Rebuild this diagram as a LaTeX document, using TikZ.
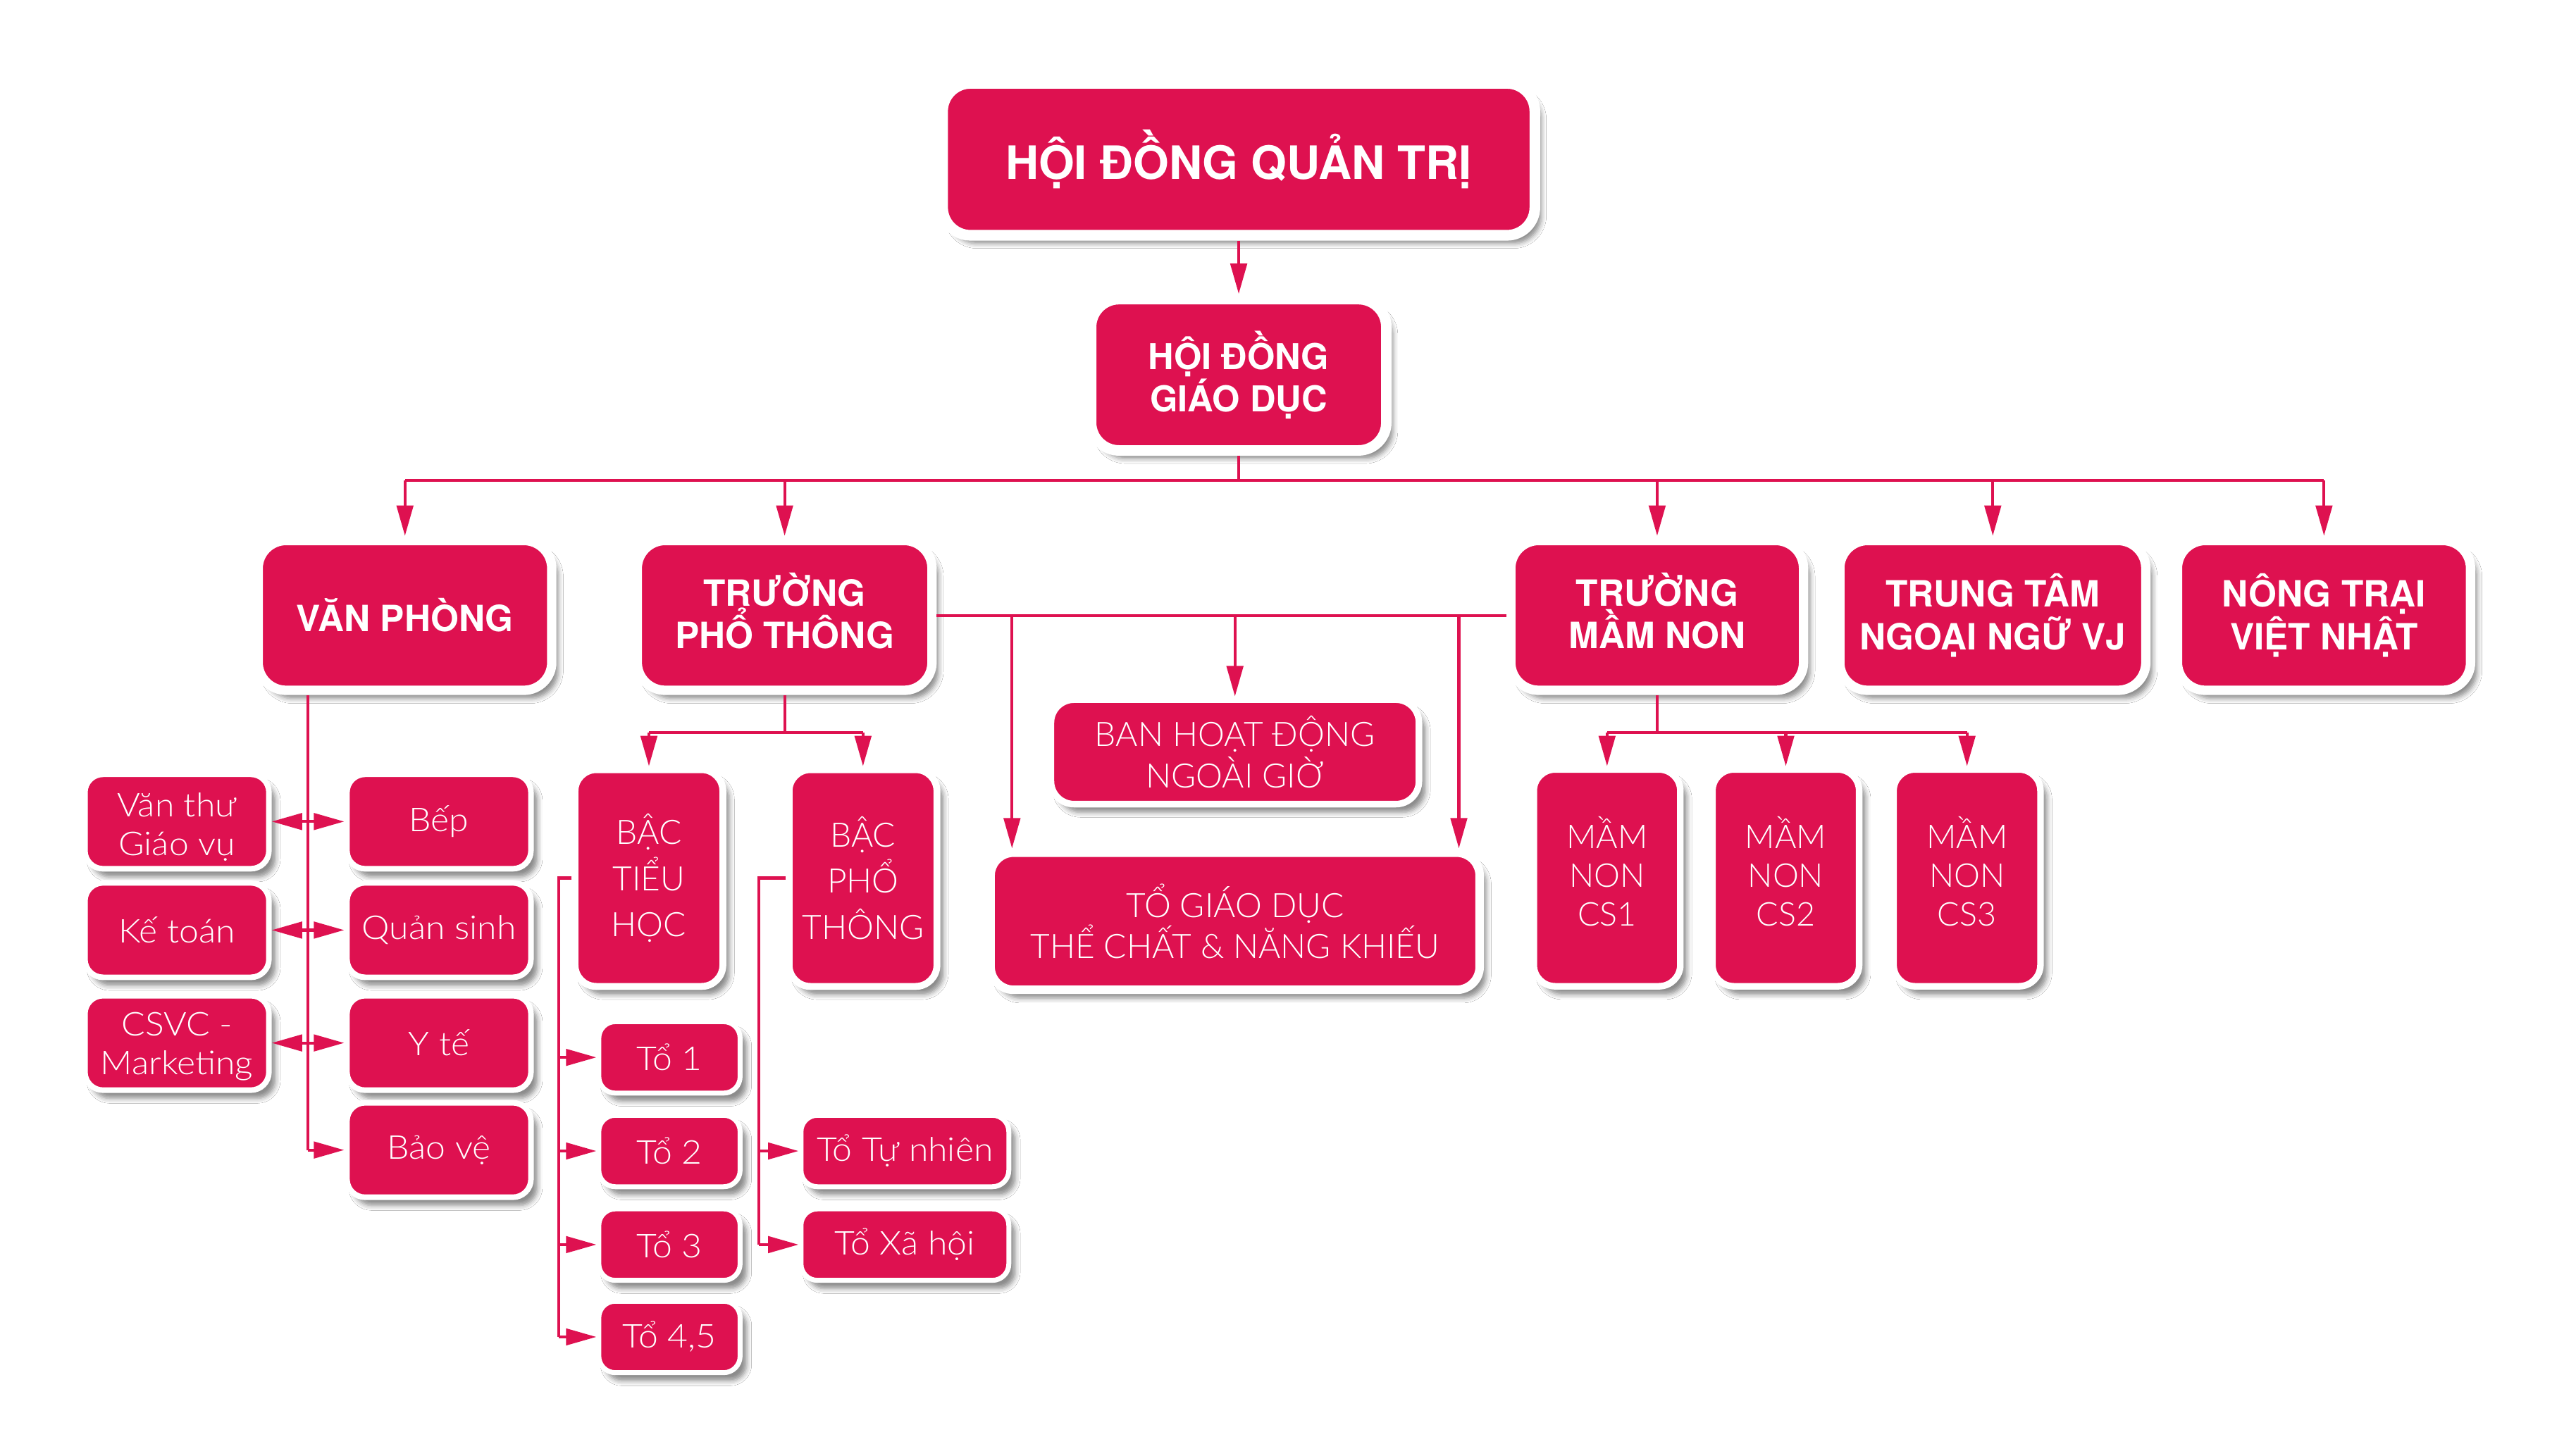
\documentclass[tikz,border=0pt]{standalone}
\usepackage{fontspec}
\usetikzlibrary{arrows.meta,shadows.blur}
\newfontfamily\headfont{TeX Gyre Heros}
\newfontfamily\bodyfont{Lato Light}
\newfontfamily\bodywide{Lato Light}[FakeStretch=1.07]
\definecolor{vjred}{RGB}{222,17,80}
% invisible struts used to balance stacked accents when centring text
\newcommand\padbelow[1]{\rule[-#1]{0pt}{0pt}}
\newcommand\padabove[1]{\rule{0pt}{#1}}

\begin{document}
\begin{tikzpicture}[x=1pt,y=-1pt,
  unit/.style={rectangle, fill=vjred, draw=white, text=white, align=center, inner sep=0pt,
    blur shadow={shadow xshift=4pt, shadow yshift=-5pt, shadow blur radius=3pt, shadow opacity=45}},
  headbox/.style={unit, font=\headfont\bfseries\fontsize{22}{26}\selectfont},
  topbox/.style={headbox, line width=6.5pt, rounded corners=17pt},
  lvlbox/.style={headbox, line width=5.7pt, rounded corners=17pt},
  bodybox/.style={unit, font=\bodyfont\fontsize{20}{23.5}\selectfont},
  widebox/.style={bodybox, rounded corners=14pt},
  tallbox/.style={bodybox, line width=4.2pt, rounded corners=13pt, minimum width=90pt, minimum height=132pt},
  smallbox/.style={bodybox, font=\bodywide\fontsize{20}{23.5}\selectfont, line width=3.4pt, rounded corners=11pt, minimum width=112pt, minimum height=57.5pt},
  tobox/.style={bodybox, font=\bodywide\fontsize{20}{23.5}\selectfont, line width=3pt, rounded corners=10pt, minimum height=43.5pt},
  ln/.style={draw=vjred, line width=1.8pt},
  arr/.style={ln, -{Triangle[length=18.5pt,width=10pt]}},
]
\fill[white] (0,0) rectangle (1568,879);
\useasboundingbox (0,0) rectangle (1568,879);

% governing boards
\node[topbox, minimum width=360.5pt, minimum height=92.5pt,
      font=\headfont\bfseries\fontsize{28}{32}\selectfont] (hdqt) at (754,97) {HỘI ĐỒNG QUẢN TRỊ};
\node[topbox, line width=6.4pt, minimum width=179.7pt, minimum height=92.1pt,
      font=\headfont\bfseries\fontsize{21.7}{25.7}\selectfont] (hdgd) at (754,228.2) {HỘI ĐỒNG\\GIÁO DỤC};

% second level units
\node[lvlbox, minimum width=178.7pt, minimum height=91.2pt] (vp) at (246.5,374.7) {VĂN PHÒNG};
\node[lvlbox, minimum width=179.4pt, minimum height=91.2pt] (tpt) at (477.6,374.7) {TRƯỜNG\\PHỔ THÔNG\padbelow{6pt}};
\node[lvlbox, minimum width=178.2pt, minimum height=91.2pt] (tmn) at (1008.7,374.7) {TRƯỜNG\\MẦM NON\padbelow{6pt}};
\node[lvlbox, minimum width=186.3pt, minimum height=91.2pt] (tt) at (1213,374.7) {TRUNG TÂM\\NGOẠI NGỮ VJ};
\node[lvlbox, minimum width=178.4pt, minimum height=91.2pt] (nt) at (1414.6,374.7) {NÔNG TRẠI\\VIỆT NHẬT};

% school-wide teams
\node[widebox, line width=4pt, minimum width=224pt, minimum height=63.6pt,
      font=\bodyfont\fontsize{20.5}{25.2}\selectfont] (ban) at (751.7,457.8) {BAN HOẠT ĐỘNG\\NGOÀI GIỜ};
\node[widebox, line width=5.2pt, minimum width=297.7pt, minimum height=83.5pt,
      font=\bodyfont\fontsize{20.5}{23.4}\selectfont] (gdtc) at (751.8,560.9) {TỔ GIÁO DỤC\\THỂ CHẤT \& NĂNG KHIẾU};

% school levels
\node[tallbox, font=\bodyfont\fontsize{20.5}{28.2}\selectfont] (bth) at (395,534.6) {BẬC\\TIỂU\\HỌC};
\node[tallbox, font=\bodyfont\fontsize{20.5}{28.2}\selectfont] (bpt) at (525.3,534.6) {BẬC\\PHỔ\\THÔNG};

% subject groups
\node[tobox, minimum width=86pt] (to1) at (407.5,643.8) {Tổ 1};
\node[tobox, minimum width=86pt] (to2) at (407.5,700.8) {Tổ 2};
\node[tobox, minimum width=86pt] (to3) at (407.5,757.8) {Tổ 3};
\node[tobox, minimum width=86pt] (to45) at (407.5,814) {Tổ 4,5};
\node[tobox, minimum width=126.5pt] (totn) at (550.8,700.8) {Tổ Tự nhiên};
\node[tobox, minimum width=126.5pt] (toxh) at (550.8,757.8) {Tổ Xã hội};

% kindergarten campuses
\node[tallbox, line width=4pt, minimum width=89.2pt] (cs1) at (978.2,534.5) {MẦM\\NON\\CS1\padbelow{8pt}};
\node[tallbox, line width=4pt, minimum width=89.3pt] (cs2) at (1087,534.5) {MẦM\\NON\\CS2\padbelow{8pt}};
\node[tallbox, line width=4pt, minimum width=89.4pt] (cs3) at (1197.3,534.5) {MẦM\\NON\\CS3\padbelow{8pt}};

% office departments
\node[smallbox] (vt) at (107.7,500.2) {\padabove{21pt}Văn thư\\Giáo vụ};
\node[smallbox] (bep) at (267.2,500.2) {Bếp};
\node[smallbox] (kt) at (107.7,566.3) {Kế toán};
\node[smallbox] (qs) at (267.2,566.3) {Quản sinh};
\node[smallbox] (csvc) at (107.7,635) {\padabove{18.5pt}CSVC -\\Marketing};
\node[smallbox] (yt) at (267.2,635) {Y tế};
\node[smallbox] (bv) at (267.2,700.2) {Bảo vệ};

% board to board
\draw[arr] (hdqt.south) -- (hdgd.north);

% main distribution bus
\coordinate (busy) at (0,292.4);
\draw[ln] (hdgd.south) -- (hdgd.south |- busy);
\draw[ln] (vp.north |- busy) -- (nt.north |- busy);
\foreach \n in {vp,tpt,tmn,tt,nt} \draw[arr] (\n.north |- busy) -- (\n.north);

% link between the two schools
\draw[ln] (tpt.east) -- (tmn.west);
\coordinate (dropl) at (616,0);
\coordinate (dropr) at (888,0);
\draw[arr] (dropl |- tpt.east) -- (dropl |- gdtc.north);
\draw[arr] (dropr |- tpt.east) -- (dropr |- gdtc.north);
\draw[arr] (ban.north |- tpt.east) -- (ban.north);

% general school levels
\coordinate (pty) at (0,446);
\draw[ln] (tpt.south) -- (tpt.south |- pty);
\draw[ln] (bth.north |- pty) -- (bpt.north |- pty);
\draw[arr] (bth.north |- pty) -- (bth.north);
\draw[arr] (bpt.north |- pty) -- (bpt.north);

% primary groups
\coordinate (thx) at (340,0);
\draw[ln] (bth.west) -- (bth.west -| thx) -- (thx |- to45.west);
\foreach \t in {to1,to2,to3,to45} \draw[arr] (thx |- \t.west) -- (\t.west);

% secondary groups
\coordinate (ptx) at (462,0);
\draw[ln] (bpt.west) -- (bpt.west -| ptx) -- (ptx |- toxh.west);
\foreach \t in {totn,toxh} \draw[arr] (ptx |- \t.west) -- (\t.west);

% kindergarten campuses
\coordinate (mny) at (0,446);
\draw[ln] (tmn.south) -- (tmn.south |- mny);
\draw[ln] (cs1.north |- mny) -- (cs3.north |- mny);
\foreach \c in {cs1,cs2,cs3} \draw[arr] (\c.north |- mny) -- (\c.north);

% office spine
\coordinate (vpx) at (187.5,0);
\draw[ln] (vp.south -| vpx) -- (vpx |- bv.west);
\foreach \l/\r in {vt/bep,kt/qs,csvc/yt} {
  \draw[arr] (vpx |- \l.east) -- (\l.east);
  \draw[arr] (vpx |- \r.west) -- (\r.west);
}
\draw[arr] (vpx |- bv.west) -- (bv.west);
\end{tikzpicture}
\end{document}
